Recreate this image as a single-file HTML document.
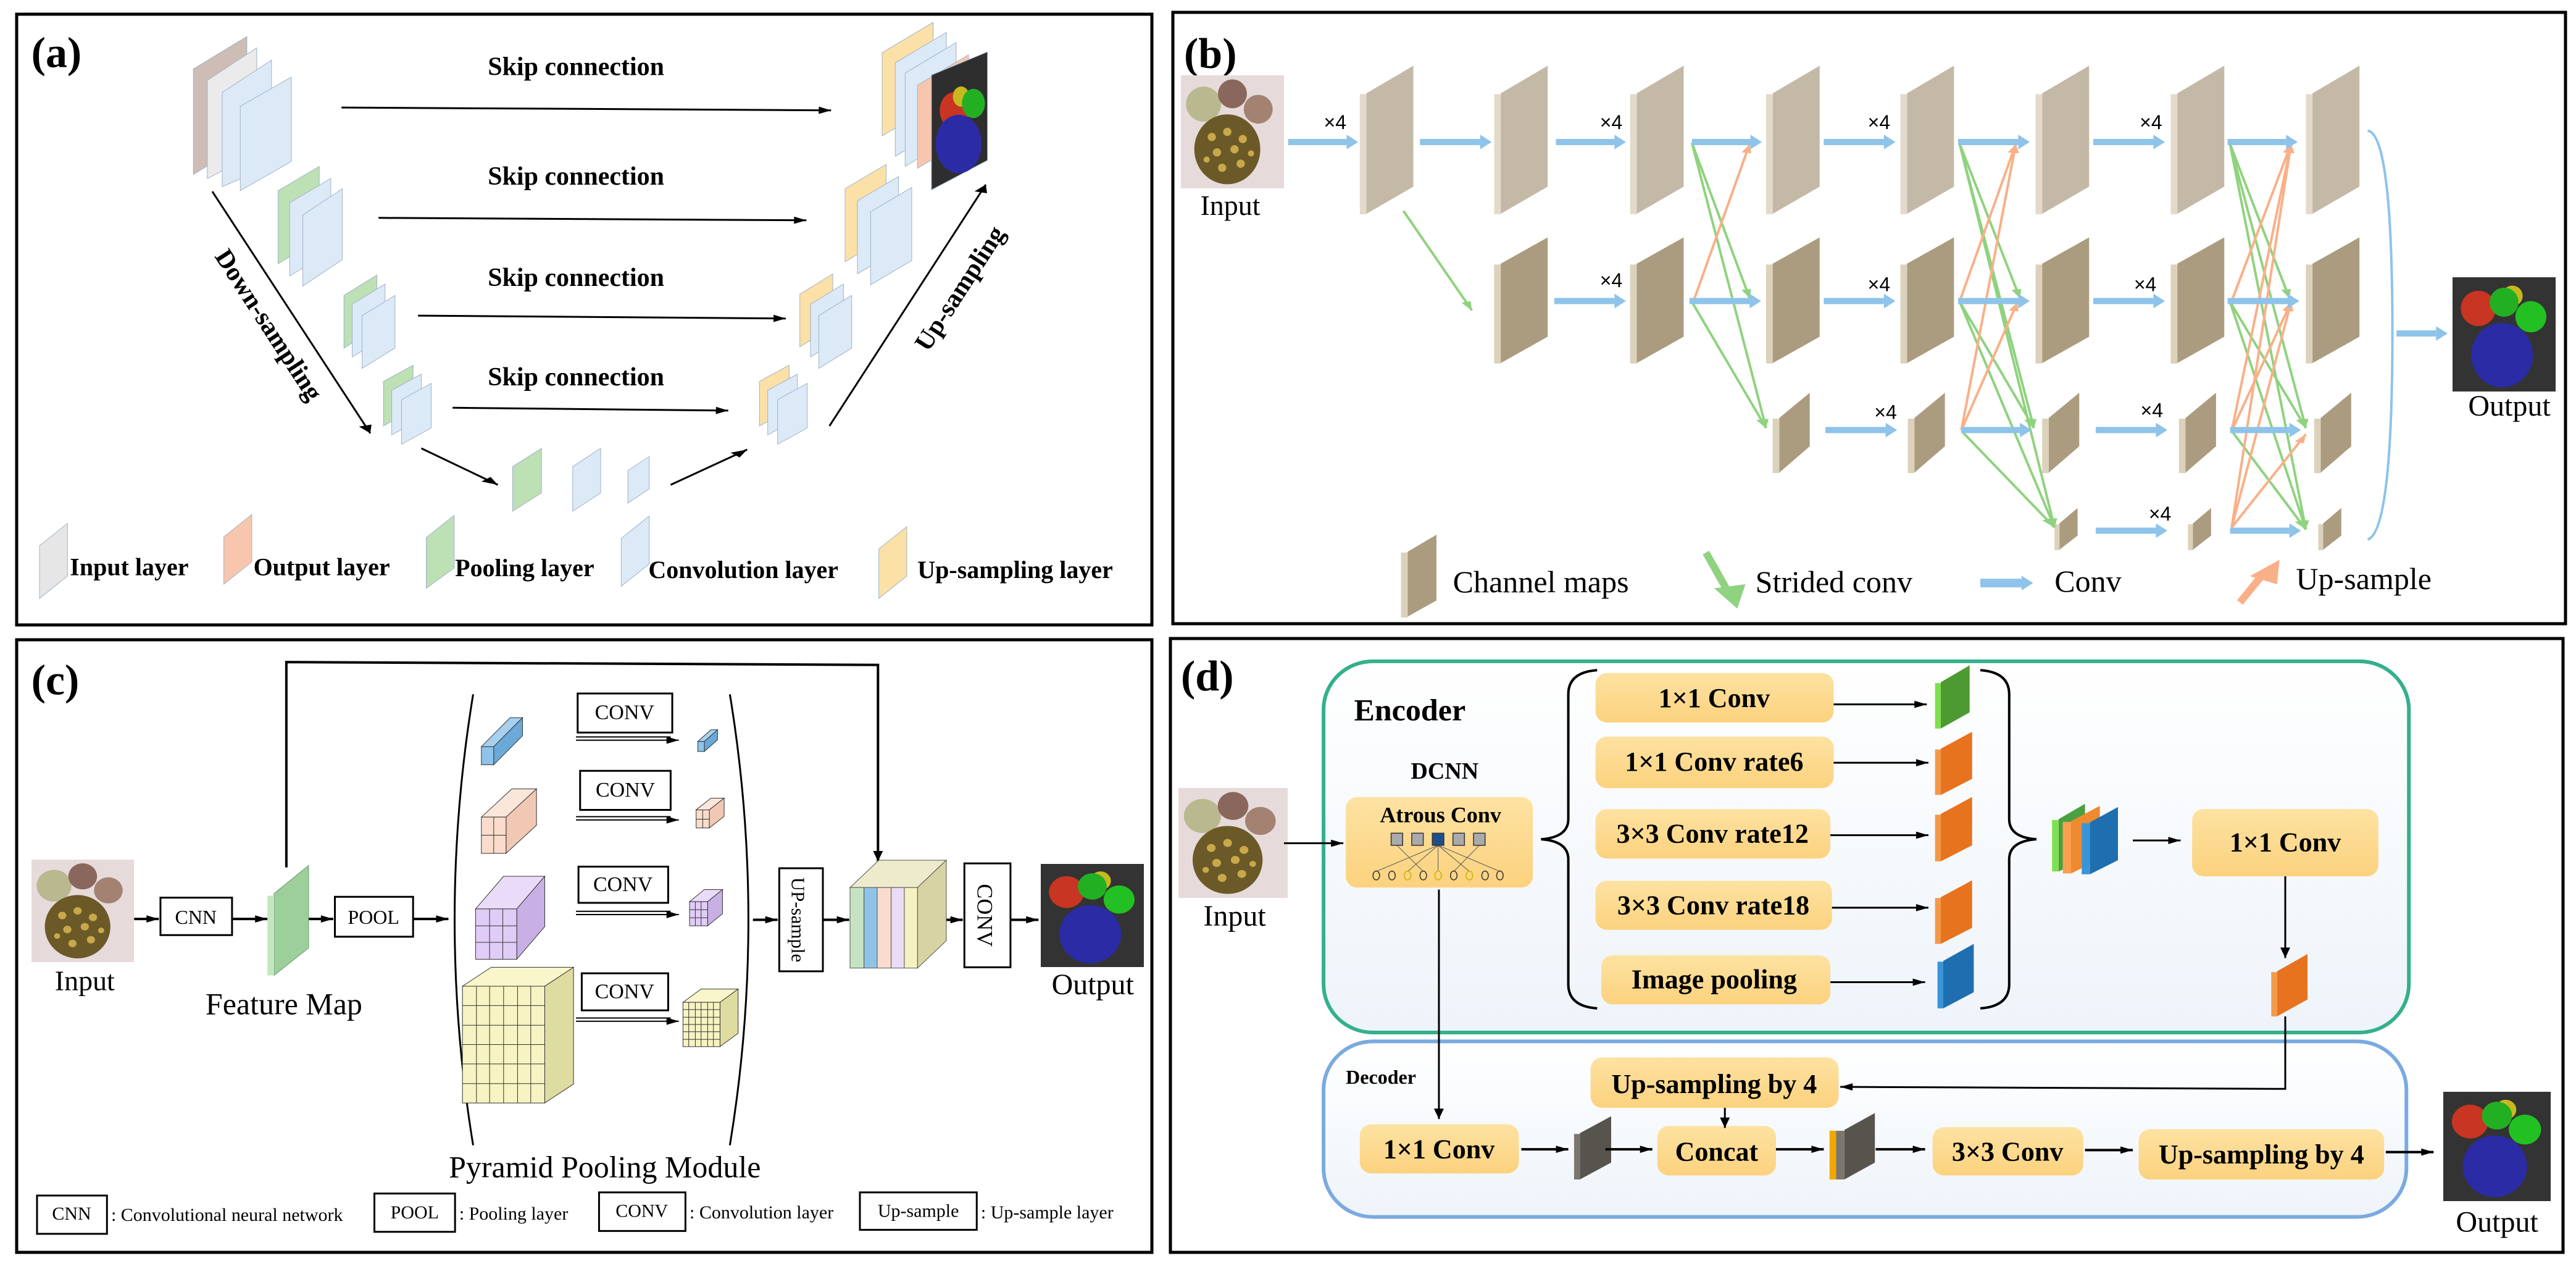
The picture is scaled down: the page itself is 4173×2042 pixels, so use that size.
<!DOCTYPE html>
<html><head><meta charset="utf-8"><style>
html,body{margin:0;padding:0;background:#fff}
svg{display:block}
text{font-family:"Liberation Serif",serif;fill:#000}
.b{font-weight:bold}
.s{font-family:"Liberation Sans",sans-serif}
.ln{vector-effect:non-scaling-stroke}
</style></head><body>
<svg width="4173" height="2042" viewBox="0 0 4173 2042" xmlns="http://www.w3.org/2000/svg">
<defs>
<marker id="ah" markerUnits="userSpaceOnUse" orient="auto" refX="15" refY="0" markerWidth="40" markerHeight="40" overflow="visible"><path d="M0,-9 L15,0 L0,9 z" fill="#000"/></marker>
<marker id="av" markerUnits="userSpaceOnUse" orient="auto" refX="26" refY="0" markerWidth="40" markerHeight="40" overflow="visible"><path d="M0,-6 L26,0 L0,6 z" fill="#000"/></marker>
<marker id="ad" markerUnits="userSpaceOnUse" orient="auto" refX="20" refY="0" markerWidth="40" markerHeight="40" overflow="visible"><path d="M0,-8 L20,0 L0,8 z" fill="#000"/></marker>
<marker id="bh" markerUnits="userSpaceOnUse" orient="auto" refX="0" refY="0" markerWidth="40" markerHeight="40" overflow="visible"><path d="M0,-18 L14,0 L0,18 z" fill="#8ec3ea"/></marker>
<marker id="gm" markerUnits="userSpaceOnUse" orient="auto" refX="22" refY="0" markerWidth="40" markerHeight="40" overflow="visible"><path d="M0,-6 L22,0 L0,6 z" fill="#8fd27f"/></marker>
<marker id="om" markerUnits="userSpaceOnUse" orient="auto" refX="22" refY="0" markerWidth="40" markerHeight="40" overflow="visible"><path d="M0,-6 L22,0 L0,6 z" fill="#f9b088"/></marker>
<linearGradient id="box" x1="0" y1="0" x2="0" y2="1"><stop offset="0" stop-color="#fde2a2"/><stop offset="1" stop-color="#fcd27e"/></linearGradient>
<linearGradient id="enc" x1="0" y1="0" x2="0" y2="1"><stop offset="0" stop-color="#ffffff"/><stop offset="1" stop-color="#eef4fa"/></linearGradient>
<symbol id="inp" viewBox="0 0 100 110" preserveAspectRatio="none">
<rect width="100" height="110" fill="#e6dada"/>
<circle cx="22" cy="28" r="17" fill="#b9b88e"/><circle cx="50" cy="18" r="14" fill="#8a675c"/><circle cx="75" cy="33" r="14" fill="#a38272"/>
<ellipse cx="45" cy="72" rx="32" ry="34" fill="#6b5a28"/>
<g fill="#c9a84a"><circle cx="30" cy="60" r="4"/><circle cx="45" cy="55" r="4"/><circle cx="60" cy="62" r="4"/><circle cx="35" cy="75" r="4"/><circle cx="52" cy="72" r="4"/><circle cx="40" cy="90" r="4"/><circle cx="58" cy="86" r="4"/><circle cx="25" cy="82" r="3"/><circle cx="68" cy="76" r="3"/></g>
</symbol>
<symbol id="out" viewBox="0 0 100 110" preserveAspectRatio="none">
<rect width="100" height="110" fill="#333"/>
<circle cx="25" cy="30" r="17" fill="#c83522"/><circle cx="58" cy="18" r="10" fill="#c8b820"/><circle cx="50" cy="24" r="14" fill="#22b022"/><circle cx="76" cy="38" r="15" fill="#22c022"/>
<ellipse cx="48" cy="75" rx="30" ry="31" fill="#2b2ba6"/>
</symbol>
</defs>

<!-- panel borders -->
<rect x="27" y="23" width="1839" height="989" fill="none" stroke="#000" stroke-width="5"/>
<rect x="1900" y="20" width="2256" height="990" fill="none" stroke="#000" stroke-width="5"/>
<rect x="27" y="1036" width="1839" height="992" fill="none" stroke="#000" stroke-width="5"/>
<rect x="1896" y="1034" width="2256" height="994" fill="none" stroke="#000" stroke-width="5"/>

<!-- ================= (a) ================= -->
<g transform="translate(0,0) scale(1.333,0.657)">
<g stroke="#9fb3c8" stroke-width="1" class="ln">
<polygon class="ln" points="235,170 300,90 300,350 235,430" fill="#cdbdb5"/>
<polygon class="ln" points="252,198 312,118 312,378 252,440" fill="#ebebeb"/>
<polygon class="ln" points="270,228 330,148 330,408 270,460" fill="#dce9f7"/>
<polygon class="ln" points="292,262 354,190 354,398 292,470" fill="#dce9f7"/>
<polygon class="ln" points="338,470 388,410 388,590 338,650" fill="#bde0b5"/>
<polygon class="ln" points="352,500 402,440 402,620 352,680" fill="#dce9f7"/>
<polygon class="ln" points="368,530 416,465 416,640 368,705" fill="#dce9f7"/>
<polygon class="ln" points="418,728 458,678 458,808 418,858" fill="#bde0b5"/>
<polygon class="ln" points="428,750 468,700 468,830 428,880" fill="#dce9f7"/>
<polygon class="ln" points="440,778 480,728 480,858 440,908" fill="#dce9f7"/>
<polygon class="ln" points="466,940 502,900 502,1010 466,1050" fill="#bde0b5"/>
<polygon class="ln" points="476,962 512,922 512,1032 476,1072" fill="#dce9f7"/>
<polygon class="ln" points="488,985 524,945 524,1055 488,1095" fill="#dce9f7"/>
<polygon class="ln" points="623,1150 658,1105 658,1215 623,1260" fill="#bde0b5"/>
<polygon class="ln" points="696,1150 730,1105 730,1215 696,1260" fill="#dce9f7"/>
<polygon class="ln" points="763,1160 789,1125 789,1205 763,1240" fill="#dce9f7"/>
<polygon class="ln" points="923,940 959,900 959,1010 923,1050" fill="#fbe0a8"/>
<polygon class="ln" points="933,962 969,922 969,1032 933,1072" fill="#dce9f7"/>
<polygon class="ln" points="945,985 981,945 981,1055 945,1095" fill="#dce9f7"/>
<polygon class="ln" points="972,725 1012,675 1012,805 972,855" fill="#fbe0a8"/>
<polygon class="ln" points="985,750 1025,700 1025,830 985,880" fill="#dce9f7"/>
<polygon class="ln" points="995,778 1035,728 1035,858 995,908" fill="#dce9f7"/>
<polygon class="ln" points="1027,465 1077,405 1077,585 1027,645" fill="#fbe0a8"/>
<polygon class="ln" points="1042,495 1092,435 1092,615 1042,675" fill="#dce9f7"/>
<polygon class="ln" points="1058,522 1108,462 1108,642 1058,702" fill="#dce9f7"/>
<polygon class="ln" points="1072,130 1134,55 1134,260 1072,335" fill="#fbe0a8"/>
<polygon class="ln" points="1088,155 1150,80 1150,310 1088,385" fill="#dce9f7"/>
<polygon class="ln" points="1100,180 1162,105 1162,335 1100,410" fill="#dce9f7"/>
<polygon class="ln" points="1115,210 1177,135 1177,340 1115,415" fill="#f8c6ae"/>
<polygon class="ln" points="1132,185 1200,128 1200,395 1132,468" fill="#2e2e2e"/>
<polygon class="ln" points="48,1345 82,1290 82,1420 48,1475" fill="#e6e6e6"/>
<polygon class="ln" points="272,1323 306,1268 306,1385 272,1440" fill="#f8c6ae"/>
<polygon class="ln" points="518,1325 552,1270 552,1400 518,1450" fill="#bde0b5"/>
<polygon class="ln" points="755,1327 789,1272 789,1390 755,1445" fill="#dce9f7"/>
<polygon class="ln" points="1068,1353 1102,1298 1102,1420 1068,1475" fill="#fbe0a8"/>
</g>
<ellipse cx="1160" cy="272" rx="18" ry="45" fill="#c83522"/>
<ellipse cx="1168" cy="238" rx="10" ry="25" fill="#c8b820"/>
<ellipse cx="1183" cy="255" rx="14" ry="36" fill="#22b022"/>
<ellipse cx="1165" cy="355" rx="28" ry="72" fill="#2b2ba6"/>
<g stroke="#000" stroke-width="3" fill="none">
<line class="ln" x1="415" y1="265" x2="1010" y2="272" marker-end="url(#ah)"/>
<line class="ln" x1="460" y1="537" x2="980" y2="543" marker-end="url(#ah)"/>
<line class="ln" x1="508" y1="778" x2="955" y2="785" marker-end="url(#ah)"/>
<line class="ln" x1="550" y1="1005" x2="885" y2="1012" marker-end="url(#ah)"/>
<line class="ln" x1="258" y1="472" x2="450" y2="1068" marker-end="url(#ad)"/>
<line class="ln" x1="512" y1="1105" x2="605" y2="1195" marker-end="url(#ad)"/>
<line class="ln" x1="815" y1="1195" x2="908" y2="1108" marker-end="url(#ad)"/>
<line class="ln" x1="1008" y1="1050" x2="1198" y2="455" marker-end="url(#ad)"/>
</g>
<g transform="translate(38,165) scale(.75,1.522)"><text class="b" font-size="70">(a)</text></g>
<g transform="translate(700,185) scale(.75,1.522)"><text class="b" font-size="42" text-anchor="middle">Skip connection</text></g>
<g transform="translate(700,455) scale(.75,1.522)"><text class="b" font-size="42" text-anchor="middle">Skip connection</text></g>
<g transform="translate(700,705) scale(.75,1.522)"><text class="b" font-size="42" text-anchor="middle">Skip connection</text></g>
<g transform="translate(700,950) scale(.75,1.522)"><text class="b" font-size="42" text-anchor="middle">Skip connection</text></g>
<g transform="translate(318,812) scale(.75,1.522) rotate(57)"><text class="b" font-size="42" text-anchor="middle">Down-sampling</text></g>
<g transform="translate(1175,722) scale(.75,1.522) rotate(-57)"><text class="b" font-size="42" text-anchor="middle">Up-sampling</text></g>
<g transform="translate(85,1418) scale(.75,1.522)"><text class="b" font-size="40">Input layer</text></g>
<g transform="translate(308,1418) scale(.75,1.522)"><text class="b" font-size="40">Output layer</text></g>
<g transform="translate(553,1420) scale(.75,1.522)"><text class="b" font-size="40">Pooling layer</text></g>
<g transform="translate(788,1425) scale(.75,1.522)"><text class="b" font-size="40">Convolution layer</text></g>
<g transform="translate(1115,1425) scale(.75,1.522)"><text class="b" font-size="40">Up-sampling layer</text></g>
</g>

<!-- ================= (b) ================= -->
<text x="1918" y="110" class="b" font-size="70">(b)</text>
<use href="#inp" x="1913" y="122" width="167" height="183"/>
<text x="1993" y="348" font-size="46" text-anchor="middle">Input</text>
<use href="#out" x="3973" y="449" width="167" height="185"/>
<text x="4065" y="673" font-size="48" text-anchor="middle">Output</text>
<g transform="translate(2080,0) scale(1.335,0.657)">
<!-- row1 -->
<g fill="#c4b9a6">
<polygon points="100,230 157,162 157,460 100,527"/><polygon points="263,230 320,162 320,460 263,527"/>
<polygon points="428,230 485,162 485,460 428,527"/><polygon points="593,230 650,162 650,460 593,527"/>
<polygon points="756,230 813,162 813,460 756,527"/><polygon points="920,230 977,162 977,460 920,527"/>
<polygon points="1084,230 1141,162 1141,460 1084,527"/><polygon points="1248,230 1305,162 1305,460 1248,527"/>
</g>
<g fill="#e3dacb">
<rect x="92" y="232" width="8" height="296"/><rect x="255" y="232" width="8" height="296"/><rect x="420" y="232" width="8" height="296"/><rect x="585" y="232" width="8" height="296"/>
<rect x="748" y="232" width="8" height="296"/><rect x="912" y="232" width="8" height="296"/><rect x="1076" y="232" width="8" height="296"/><rect x="1240" y="232" width="8" height="296"/>
</g>
<!-- row2 -->
<g fill="#ab9c80">
<polygon points="263,650 320,585 320,830 263,895"/><polygon points="428,650 485,585 485,830 428,895"/>
<polygon points="593,650 650,585 650,830 593,895"/><polygon points="756,650 813,585 813,830 756,895"/>
<polygon points="920,650 977,585 977,830 920,895"/><polygon points="1084,650 1141,585 1141,830 1084,895"/>
<polygon points="1248,650 1305,585 1305,830 1248,895"/>
<polygon points="601,1030 638,968 638,1100 601,1165"/><polygon points="765,1030 802,968 802,1100 765,1165"/>
<polygon points="928,1030 965,968 965,1100 928,1165"/><polygon points="1094,1030 1131,968 1131,1100 1094,1165"/>
<polygon points="1258,1030 1295,968 1295,1100 1258,1165"/>
<polygon points="941,1290 963,1252 963,1320 941,1355"/><polygon points="1103,1290 1125,1252 1125,1320 1103,1355"/>
<polygon points="1261,1290 1283,1252 1283,1320 1261,1355"/>
<polygon points="150,1360 185,1318 185,1480 150,1520"/>
</g>
<g fill="#dcd1bb">
<rect x="255" y="652" width="8" height="244"/><rect x="420" y="652" width="8" height="244"/><rect x="585" y="652" width="8" height="244"/>
<rect x="748" y="652" width="8" height="244"/><rect x="912" y="652" width="8" height="244"/><rect x="1076" y="652" width="8" height="244"/><rect x="1240" y="652" width="8" height="244"/>
<rect x="593" y="1032" width="8" height="134"/><rect x="757" y="1032" width="8" height="134"/><rect x="920" y="1032" width="8" height="134"/><rect x="1086" y="1032" width="8" height="134"/><rect x="1250" y="1032" width="8" height="134"/>
<rect x="935" y="1292" width="6" height="64"/><rect x="1097" y="1292" width="6" height="64"/><rect x="1255" y="1292" width="6" height="64"/>
<rect x="142" y="1362" width="8" height="160"/>
</g>
<!-- green / orange -->
<g stroke="#8fd27f" stroke-width="4" fill="none">
<line class="ln" x1="145" y1="520" x2="228" y2="765" marker-end="url(#gm)"/>
<line class="ln" x1="495" y1="352" x2="565" y2="735" marker-end="url(#gm)"/>
<line class="ln" x1="495" y1="352" x2="585" y2="1055" marker-end="url(#gm)"/>
<line class="ln" x1="495" y1="744" x2="585" y2="1055" marker-end="url(#gm)"/>
<line class="ln" x1="820" y1="355" x2="893" y2="735" marker-end="url(#gm)"/>
<line class="ln" x1="820" y1="355" x2="910" y2="1055" marker-end="url(#gm)"/>
<line class="ln" x1="820" y1="355" x2="935" y2="1300" marker-end="url(#gm)"/>
<line class="ln" x1="820" y1="744" x2="910" y2="1055" marker-end="url(#gm)"/>
<line class="ln" x1="820" y1="744" x2="935" y2="1300" marker-end="url(#gm)"/>
<line class="ln" x1="822" y1="1062" x2="935" y2="1300" marker-end="url(#gm)"/>
<line class="ln" x1="1148" y1="355" x2="1220" y2="735" marker-end="url(#gm)"/>
<line class="ln" x1="1148" y1="355" x2="1240" y2="1055" marker-end="url(#gm)"/>
<line class="ln" x1="1148" y1="355" x2="1240" y2="1305" marker-end="url(#gm)"/>
<line class="ln" x1="1148" y1="744" x2="1240" y2="1055" marker-end="url(#gm)"/>
<line class="ln" x1="1148" y1="744" x2="1240" y2="1305" marker-end="url(#gm)"/>
<line class="ln" x1="1150" y1="1062" x2="1240" y2="1305" marker-end="url(#gm)"/>
</g>
<g stroke="#f9b088" stroke-width="4" fill="none">
<line class="ln" x1="497" y1="742" x2="565" y2="355" marker-end="url(#om)"/>
<line class="ln" x1="820" y1="742" x2="888" y2="355" marker-end="url(#om)"/>
<line class="ln" x1="822" y1="1060" x2="888" y2="355" marker-end="url(#om)"/>
<line class="ln" x1="822" y1="1060" x2="890" y2="745" marker-end="url(#om)"/>
<line class="ln" x1="1150" y1="742" x2="1222" y2="355" marker-end="url(#om)"/>
<line class="ln" x1="1150" y1="1062" x2="1222" y2="355" marker-end="url(#om)"/>
<line class="ln" x1="1150" y1="1300" x2="1222" y2="355" marker-end="url(#om)"/>
<line class="ln" x1="1150" y1="1062" x2="1222" y2="745" marker-end="url(#om)"/>
<line class="ln" x1="1150" y1="1300" x2="1222" y2="745" marker-end="url(#om)"/>
<line class="ln" x1="1150" y1="1300" x2="1240" y2="1070" marker-end="url(#om)"/>
</g>
<!-- blue arrows -->
<g stroke="#8ec3ea" stroke-width="10" fill="none">
<line class="ln" x1="5" y1="350" x2="76" y2="350" marker-end="url(#bh)"/>
<line class="ln" x1="165" y1="350" x2="238" y2="350" marker-end="url(#bh)"/>
<line class="ln" x1="330" y1="350" x2="401" y2="350" marker-end="url(#bh)"/>
<line class="ln" x1="495" y1="350" x2="566" y2="350" marker-end="url(#bh)"/>
<line class="ln" x1="655" y1="350" x2="728" y2="350" marker-end="url(#bh)"/>
<line class="ln" x1="818" y1="350" x2="891" y2="350" marker-end="url(#bh)"/>
<line class="ln" x1="982" y1="350" x2="1055" y2="350" marker-end="url(#bh)"/>
<line class="ln" x1="1145" y1="350" x2="1216" y2="350" marker-end="url(#bh)"/>
<line class="ln" x1="328" y1="742" x2="401" y2="742" marker-end="url(#bh)"/>
<line class="ln" x1="492" y1="742" x2="565" y2="742" marker-end="url(#bh)"/>
<line class="ln" x1="655" y1="742" x2="728" y2="742" marker-end="url(#bh)"/>
<line class="ln" x1="818" y1="742" x2="891" y2="742" marker-end="url(#bh)"/>
<line class="ln" x1="982" y1="742" x2="1055" y2="742" marker-end="url(#bh)"/>
<line class="ln" x1="1145" y1="742" x2="1218" y2="742" marker-end="url(#bh)"/>
<line class="ln" x1="657" y1="1060" x2="730" y2="1060" marker-end="url(#bh)"/>
<line class="ln" x1="822" y1="1060" x2="893" y2="1060" marker-end="url(#bh)"/>
<line class="ln" x1="985" y1="1060" x2="1058" y2="1060" marker-end="url(#bh)"/>
<line class="ln" x1="1148" y1="1060" x2="1220" y2="1060" marker-end="url(#bh)"/>
<line class="ln" x1="985" y1="1308" x2="1058" y2="1308" marker-end="url(#bh)"/>
<line class="ln" x1="1148" y1="1308" x2="1220" y2="1308" marker-end="url(#bh)"/>
<line class="ln" x1="1350" y1="822" x2="1398" y2="822" marker-end="url(#bh)"/>
<line class="ln" x1="845" y1="1437" x2="895" y2="1437" stroke-width="14" marker-end="url(#bh)"/>
</g>
<path class="ln" d="M1315,322 Q1345,330 1345,820 Q1345,1310 1315,1330" stroke="#8ec3ea" stroke-width="4" fill="none"/>
<line class="ln" x1="512" y1="1362" x2="542" y2="1470" stroke="#8fd27f" stroke-width="12"/>
<polygon points="522,1450 560,1440 550,1500" fill="#8fd27f"/>
<line class="ln" x1="1160" y1="1485" x2="1190" y2="1410" stroke="#f9b088" stroke-width="12"/>
<polygon points="1172,1420 1208,1380 1205,1440" fill="#f9b088"/>
<g class="s">
<g transform="translate(62,318) scale(.75,1.522)"><text class="s" font-size="32" text-anchor="middle">×4</text></g>
<g transform="translate(397,318) scale(.75,1.522)"><text class="s" font-size="32" text-anchor="middle">×4</text></g>
<g transform="translate(722,318) scale(.75,1.522)"><text class="s" font-size="32" text-anchor="middle">×4</text></g>
<g transform="translate(1052,318) scale(.75,1.522)"><text class="s" font-size="32" text-anchor="middle">×4</text></g>
<g transform="translate(397,708) scale(.75,1.522)"><text class="s" font-size="32" text-anchor="middle">×4</text></g>
<g transform="translate(722,718) scale(.75,1.522)"><text class="s" font-size="32" text-anchor="middle">×4</text></g>
<g transform="translate(1045,718) scale(.75,1.522)"><text class="s" font-size="32" text-anchor="middle">×4</text></g>
<g transform="translate(730,1033) scale(.75,1.522)"><text class="s" font-size="32" text-anchor="middle">×4</text></g>
<g transform="translate(1053,1028) scale(.75,1.522)"><text class="s" font-size="32" text-anchor="middle">×4</text></g>
<g transform="translate(1063,1283) scale(.75,1.522)"><text class="s" font-size="32" text-anchor="middle">×4</text></g>
</g>
<g transform="translate(205,1460) scale(.75,1.522)"><text font-size="50">Channel maps</text></g>
<g transform="translate(572,1460) scale(.75,1.522)"><text font-size="50">Strided conv</text></g>
<g transform="translate(935,1458) scale(.75,1.522)"><text font-size="50">Conv</text></g>
<g transform="translate(1228,1452) scale(.75,1.522)"><text font-size="50">Up-sample</text></g>
</g>

<!-- ================= (c) ================= -->
<use href="#inp" x="51" y="1392" width="166" height="166"/>
<use href="#out" x="1686" y="1399" width="167" height="167"/>
<g transform="translate(0,1020) scale(1.333,0.652)">
<g transform="translate(38,160) scale(.75,1.534)"><text class="b" font-size="70">(c)</text></g>
<polyline class="ln" points="348,590 348,80 1067,87 1067,575" fill="none" stroke="#000" stroke-width="4" marker-end="url(#av)"/>
<g stroke="#000" stroke-width="4" fill="none">
<line class="ln" x1="163" y1="718" x2="193" y2="718" marker-end="url(#ah)"/>
<line class="ln" x1="282" y1="718" x2="325" y2="718" marker-end="url(#ah)"/>
<line class="ln" x1="375" y1="718" x2="405" y2="718" marker-end="url(#ah)"/>
<line class="ln" x1="502" y1="718" x2="545" y2="718" marker-end="url(#ah)"/>
<line class="ln" x1="915" y1="720" x2="945" y2="720" marker-end="url(#ah)"/>
<line class="ln" x1="1000" y1="720" x2="1032" y2="720" marker-end="url(#ah)"/>
<line class="ln" x1="1128" y1="720" x2="1170" y2="720" marker-end="url(#ah)"/>
<line class="ln" x1="1228" y1="720" x2="1262" y2="720" marker-end="url(#ah)"/>
</g>
<g stroke="#000" stroke-width="3" fill="#fff">
<rect class="ln" x="195" y="665" width="87" height="93"/>
<rect class="ln" x="407" y="663" width="95" height="99"/>
<rect class="ln" x="702" y="158" width="115" height="97"/>
<rect class="ln" x="705" y="350" width="110" height="97"/>
<rect class="ln" x="703" y="588" width="109" height="90"/>
<rect class="ln" x="707" y="853" width="105" height="92"/>
<rect class="ln" x="947" y="592" width="53" height="256"/>
<rect class="ln" x="1172" y="580" width="56" height="258"/>
<rect class="ln" x="45" y="1405" width="85" height="95"/>
<rect class="ln" x="455" y="1400" width="98" height="95"/>
<rect class="ln" x="728" y="1397" width="105" height="96"/>
<rect class="ln" x="1045" y="1397" width="142" height="93"/>
</g>
<!-- feature map -->
<polygon points="333,655 375,585 375,790 333,858" fill="#9ccf9a" stroke="#6a9a6a" stroke-width="1" class="ln"/>
<rect x="325" y="660" width="8" height="198" fill="#c5e6c0"/>
<!-- parens -->
<path class="ln" d="M575,160 Q530,720 575,1280" stroke="#000" stroke-width="3" fill="none"/>
<path class="ln" d="M887,160 Q932,720 887,1280" stroke="#000" stroke-width="3" fill="none"/>
<!-- double arrows -->
<g stroke="#000" stroke-width="2" fill="none">
<line class="ln" x1="700" y1="266" x2="815" y2="266"/><line class="ln" x1="700" y1="274" x2="825" y2="274" marker-end="url(#ah)"/>
<line class="ln" x1="700" y1="464" x2="815" y2="464"/><line class="ln" x1="700" y1="472" x2="825" y2="472" marker-end="url(#ah)"/>
<line class="ln" x1="700" y1="699" x2="815" y2="699"/><line class="ln" x1="700" y1="707" x2="825" y2="707" marker-end="url(#ah)"/>
<line class="ln" x1="700" y1="964" x2="815" y2="964"/><line class="ln" x1="700" y1="972" x2="825" y2="972" marker-end="url(#ah)"/>
</g>
<!-- cubes -->
<g stroke="#333" stroke-width="1">
<polygon class="ln" points="585,290 620,218 635,218 600,290" fill="#a8d0ee"/><polygon class="ln" points="600,290 635,218 635,263 600,335" fill="#6aa9d8"/><rect class="ln" x="585" y="290" width="15" height="45" fill="#8ec3ea"/>
<polygon class="ln" points="585,465 622,395 652,395 615,465" fill="#fbe6da"/><polygon class="ln" points="615,465 652,395 652,485 615,555" fill="#f0c8b4"/><rect class="ln" x="585" y="465" width="30" height="90" fill="#f9dccb"/>
<line class="ln" x1="600" y1="465" x2="600" y2="555"/><line class="ln" x1="585" y1="510" x2="615" y2="510"/>
<polygon class="ln" points="578,693 612,612 662,612 628,693" fill="#eadcf8"/><polygon class="ln" points="628,693 662,612 662,737 628,818" fill="#c8b0e4"/><rect class="ln" x="578" y="693" width="50" height="125" fill="#e0ccf6"/>
<line class="ln" x1="595" y1="693" x2="595" y2="818"/><line class="ln" x1="611" y1="693" x2="611" y2="818"/><line class="ln" x1="578" y1="735" x2="628" y2="735"/><line class="ln" x1="578" y1="776" x2="628" y2="776"/>
<polygon class="ln" points="562,885 597,838 697,838 662,885" fill="#faf6cc"/><polygon class="ln" points="662,885 697,838 697,1128 662,1175" fill="#dedca0"/><rect class="ln" x="562" y="885" width="100" height="290" fill="#f7f3c2"/>
<line class="ln" x1="579" y1="885" x2="579" y2="1175"/><line class="ln" x1="595" y1="885" x2="595" y2="1175"/><line class="ln" x1="612" y1="885" x2="612" y2="1175"/><line class="ln" x1="629" y1="885" x2="629" y2="1175"/><line class="ln" x1="645" y1="885" x2="645" y2="1175"/>
<line class="ln" x1="562" y1="933" x2="662" y2="933"/><line class="ln" x1="562" y1="982" x2="662" y2="982"/><line class="ln" x1="562" y1="1030" x2="662" y2="1030"/><line class="ln" x1="562" y1="1078" x2="662" y2="1078"/><line class="ln" x1="562" y1="1127" x2="662" y2="1127"/>
<polygon class="ln" points="848,277 864,248 872,248 856,277" fill="#a8d0ee"/><polygon class="ln" points="856,277 872,248 872,273 856,302" fill="#6aa9d8"/><rect class="ln" x="848" y="277" width="8" height="25" fill="#8ec3ea"/>
<polygon class="ln" points="846,447 864,418 880,418 862,447" fill="#fbe6da"/><polygon class="ln" points="862,447 880,418 880,463 862,492" fill="#f0c8b4"/><rect class="ln" x="846" y="447" width="16" height="45" fill="#f9dccb"/>
<line class="ln" x1="854" y1="447" x2="854" y2="492"/><line class="ln" x1="846" y1="470" x2="862" y2="470"/>
<polygon class="ln" points="838,675 856,645 878,645 860,675" fill="#eadcf8"/><polygon class="ln" points="860,675 878,645 878,705 860,735" fill="#c8b0e4"/><rect class="ln" x="838" y="675" width="22" height="60" fill="#e0ccf6"/>
<line class="ln" x1="845" y1="675" x2="845" y2="735"/><line class="ln" x1="852" y1="675" x2="852" y2="735"/><line class="ln" x1="838" y1="695" x2="860" y2="695"/><line class="ln" x1="838" y1="715" x2="860" y2="715"/>
<polygon class="ln" points="830,925 852,892 897,892 875,925" fill="#faf6cc"/><polygon class="ln" points="875,925 897,892 897,1002 875,1035" fill="#dedca0"/><rect class="ln" x="830" y="925" width="45" height="110" fill="#f7f3c2"/>
<line class="ln" x1="837" y1="925" x2="837" y2="1035"/><line class="ln" x1="845" y1="925" x2="845" y2="1035"/><line class="ln" x1="852" y1="925" x2="852" y2="1035"/><line class="ln" x1="860" y1="925" x2="860" y2="1035"/><line class="ln" x1="867" y1="925" x2="867" y2="1035"/>
<line class="ln" x1="830" y1="943" x2="875" y2="943"/><line class="ln" x1="830" y1="962" x2="875" y2="962"/><line class="ln" x1="830" y1="980" x2="875" y2="980"/><line class="ln" x1="830" y1="998" x2="875" y2="998"/><line class="ln" x1="830" y1="1017" x2="875" y2="1017"/>
</g>
<!-- concat stack -->
<g stroke="#555" stroke-width="1">
<polygon class="ln" points="1033,640 1068,572 1150,572 1115,640" fill="#eeeacc"/>
<polygon class="ln" points="1115,640 1150,572 1150,772 1115,840" fill="#d8d3a4"/>
<rect class="ln" x="1033" y="640" width="17" height="200" fill="#c5e3c0"/>
<rect class="ln" x="1050" y="640" width="16" height="200" fill="#8ec3e6"/>
<rect class="ln" x="1066" y="640" width="17" height="200" fill="#f9dccb"/>
<rect class="ln" x="1083" y="640" width="16" height="200" fill="#eadcf6"/>
<rect class="ln" x="1099" y="640" width="16" height="200" fill="#f5f1c2"/>
</g>
<g transform="translate(238,730) scale(.75,1.534)"><text font-size="32" text-anchor="middle">CNN</text></g>
<g transform="translate(454,730) scale(.75,1.534)"><text font-size="32" text-anchor="middle">POOL</text></g>
<g transform="translate(759,222) scale(.75,1.534)"><text font-size="34" text-anchor="middle">CONV</text></g>
<g transform="translate(760,414) scale(.75,1.534)"><text font-size="34" text-anchor="middle">CONV</text></g>
<g transform="translate(757,649) scale(.75,1.534)"><text font-size="34" text-anchor="middle">CONV</text></g>
<g transform="translate(759,915) scale(.75,1.534)"><text font-size="34" text-anchor="middle">CONV</text></g>
<g transform="translate(962,720) scale(.75,1.534) rotate(90)"><text font-size="31" text-anchor="middle">UP-sample</text></g>
<g transform="translate(1188,709) scale(.75,1.534) rotate(90)"><text font-size="36" text-anchor="middle">CONV</text></g>
<g transform="translate(103,895) scale(.75,1.534)"><text font-size="46" text-anchor="middle">Input</text></g>
<g transform="translate(345,955) scale(.75,1.534)"><text font-size="50" text-anchor="middle">Feature Map</text></g>
<g transform="translate(735,1360) scale(.75,1.534)"><text font-size="50" text-anchor="middle">Pyramid Pooling Module</text></g>
<g transform="translate(1328,905) scale(.75,1.534)"><text font-size="48" text-anchor="middle">Output</text></g>
<g transform="translate(87,1465) scale(.75,1.534)"><text font-size="30" text-anchor="middle">CNN</text></g>
<g transform="translate(135,1468) scale(.75,1.534)"><text font-size="30">: Convolutional neural network</text></g>
<g transform="translate(504,1462) scale(.75,1.534)"><text font-size="30" text-anchor="middle">POOL</text></g>
<g transform="translate(558,1465) scale(.75,1.534)"><text font-size="30">: Pooling layer</text></g>
<g transform="translate(780,1458) scale(.75,1.534)"><text font-size="30" text-anchor="middle">CONV</text></g>
<g transform="translate(838,1462) scale(.75,1.534)"><text font-size="30">: Convolution layer</text></g>
<g transform="translate(1116,1458) scale(.75,1.534)"><text font-size="30" text-anchor="middle">Up-sample</text></g>
<g transform="translate(1192,1462) scale(.75,1.534)"><text font-size="30">: Up-sample layer</text></g>
</g>

<!-- ================= (d) ================= -->
<text x="1913" y="1118" class="b" font-size="70">(d)</text>
<use href="#inp" x="1909" y="1276" width="177" height="178"/>
<text x="2000" y="1499" font-size="48" text-anchor="middle">Input</text>
<use href="#out" x="3958" y="1768" width="174" height="177"/>
<g transform="translate(2080,1020) scale(1.335,0.652)">
<rect class="ln" x="48" y="78" width="1317" height="922" rx="60" ry="120" fill="url(#enc)" stroke="#34b08c" stroke-width="6"/>
<rect class="ln" x="48" y="1022" width="1314" height="436" rx="60" ry="120" fill="url(#enc)" stroke="#7aaae0" stroke-width="6"/>
<g fill="url(#box)">
<rect x="75" y="415" width="227" height="225" rx="14" ry="28"/>
<rect x="378" y="107" width="289" height="123" rx="14" ry="28"/>
<rect x="378" y="265" width="289" height="128" rx="14" ry="28"/>
<rect x="378" y="445" width="285" height="123" rx="14" ry="28"/>
<rect x="378" y="623" width="287" height="122" rx="14" ry="28"/>
<rect x="385" y="808" width="278" height="122" rx="14" ry="28"/>
<rect x="1102" y="445" width="226" height="167" rx="14" ry="28"/>
<rect x="372" y="1062" width="301" height="125" rx="14" ry="28"/>
<rect x="92" y="1228" width="193" height="122" rx="14" ry="28"/>
<rect x="453" y="1232" width="144" height="123" rx="14" ry="28"/>
<rect x="787" y="1235" width="183" height="120" rx="14" ry="28"/>
<rect x="1037" y="1240" width="298" height="125" rx="14" ry="28"/>
</g>
<!-- atrous icon -->
<g stroke="#555" stroke-width="1" class="ln">
<line class="ln" x1="187" y1="535" x2="112" y2="600"/><line class="ln" x1="187" y1="535" x2="150" y2="600"/><line class="ln" x1="187" y1="535" x2="187" y2="600"/><line class="ln" x1="187" y1="535" x2="225" y2="600"/><line class="ln" x1="187" y1="535" x2="262" y2="600"/>
<line class="ln" x1="137" y1="535" x2="169" y2="600"/><line class="ln" x1="237" y1="535" x2="206" y2="600"/>
</g>
<g stroke="#333" stroke-width="1.5">
<rect class="ln" x="130" y="505" width="14" height="30" fill="#aaa"/><rect class="ln" x="155" y="505" width="14" height="30" fill="#aaa"/>
<rect class="ln" x="180" y="505" width="14" height="30" fill="#1f4e8c"/><rect class="ln" x="205" y="505" width="14" height="30" fill="#aaa"/><rect class="ln" x="230" y="505" width="14" height="30" fill="#aaa"/>
<g fill="none"><ellipse class="ln" cx="112" cy="610" rx="4" ry="11"/><ellipse class="ln" cx="131" cy="610" rx="4" ry="11"/><ellipse class="ln" cx="150" cy="610" rx="4" ry="11" stroke="#c8b400"/><ellipse class="ln" cx="169" cy="610" rx="4" ry="11"/><ellipse class="ln" cx="187" cy="610" rx="4" ry="11" stroke="#c8b400"/><ellipse class="ln" cx="206" cy="610" rx="4" ry="11"/><ellipse class="ln" cx="225" cy="610" rx="4" ry="11" stroke="#c8b400"/><ellipse class="ln" cx="244" cy="610" rx="4" ry="11"/><ellipse class="ln" cx="262" cy="610" rx="4" ry="11"/></g>
</g>
<!-- braces -->
<path class="ln" d="M380,100 Q345,105 345,160 L345,470 Q345,515 312,520 Q345,525 345,570 L345,880 Q345,935 380,940" fill="none" stroke="#000" stroke-width="4"/>
<path class="ln" d="M845,100 Q880,105 880,160 L880,470 Q880,515 913,520 Q880,525 880,570 L880,880 Q880,935 845,940" fill="none" stroke="#000" stroke-width="4"/>
<!-- slabs -->
<polygon points="797,130 832,88 832,205 797,245" fill="#4e9a32"/><rect x="790" y="132" width="7" height="113" fill="#7ee050"/>
<polygon points="797,295 835,253 835,370 797,410" fill="#e8731f"/><rect x="790" y="297" width="7" height="113" fill="#f39a4a"/>
<polygon points="797,457 835,415 835,535 797,575" fill="#e8731f"/><rect x="790" y="459" width="7" height="116" fill="#f39a4a"/>
<polygon points="797,664 835,622 835,740 797,780" fill="#e8731f"/><rect x="790" y="666" width="7" height="114" fill="#f39a4a"/>
<polygon points="800,822 837,780 837,900 800,940" fill="#1f6fb0"/><rect x="793" y="824" width="7" height="116" fill="#3a94d8"/>
<polygon points="940,470 972,432 972,568 940,600" fill="#4aa040"/><rect x="932" y="472" width="8" height="128" fill="#7ee050"/>
<polygon points="955,475 990,437 990,570 955,605" fill="#ef8a30"/><rect x="945" y="477" width="10" height="128" fill="#f9a050"/>
<polygon points="978,478 1012,440 1012,572 978,607" fill="#1f6fb0"/><rect x="968" y="480" width="10" height="127" fill="#3a94d8"/>
<polygon points="1205,848 1242,805 1242,918 1205,960" fill="#e8731f"/><rect x="1198" y="850" width="7" height="110" fill="#f39a4a"/>
<polygon points="359,1250 397,1208 397,1323 359,1365" fill="#57534d"/><rect x="352" y="1252" width="7" height="113" fill="#7a766e"/>
<polygon points="680,1242 717,1200 717,1323 680,1365" fill="#57534d"/><rect x="662" y="1244" width="8" height="121" fill="#f0a800"/><rect x="670" y="1244" width="10" height="121" fill="#7a766e"/>
<!-- arrows -->
<g stroke="#000" stroke-width="3" fill="none">
<line class="ln" x1="0" y1="530" x2="72" y2="530" marker-end="url(#ah)"/>
<line class="ln" x1="667" y1="185" x2="780" y2="185" marker-end="url(#ah)"/>
<line class="ln" x1="667" y1="330" x2="782" y2="330" marker-end="url(#ah)"/>
<line class="ln" x1="663" y1="510" x2="782" y2="510" marker-end="url(#ah)"/>
<line class="ln" x1="665" y1="690" x2="782" y2="690" marker-end="url(#ah)"/>
<line class="ln" x1="663" y1="875" x2="778" y2="875" marker-end="url(#ah)"/>
<line class="ln" x1="1030" y1="523" x2="1088" y2="523" marker-end="url(#ah)"/>
<line class="ln" x1="1215" y1="612" x2="1215" y2="815" marker-end="url(#av)"/>
<polyline class="ln" points="1215,960 1215,1140 675,1135" marker-end="url(#ah)"/>
<line class="ln" x1="188" y1="645" x2="188" y2="1215" marker-end="url(#av)"/>
<line class="ln" x1="535" y1="1187" x2="535" y2="1237" marker-end="url(#av)"/>
</g>
<g stroke="#000" stroke-width="4" fill="none">
<line class="ln" x1="288" y1="1290" x2="345" y2="1290" marker-end="url(#ah)"/>
<line class="ln" x1="390" y1="1290" x2="447" y2="1290" marker-end="url(#ah)"/>
<line class="ln" x1="597" y1="1290" x2="655" y2="1290" marker-end="url(#ah)"/>
<line class="ln" x1="718" y1="1290" x2="778" y2="1290" marker-end="url(#ah)"/>
<line class="ln" x1="972" y1="1292" x2="1030" y2="1292" marker-end="url(#ah)"/>
<line class="ln" x1="1337" y1="1297" x2="1395" y2="1297" marker-end="url(#ah)"/>
</g>
<g transform="translate(85,225) scale(.75,1.534)"><text class="b" font-size="50">Encoder</text></g>
<g transform="translate(195,370) scale(.75,1.534)"><text class="b" font-size="38" text-anchor="middle">DCNN</text></g>
<g transform="translate(190,478) scale(.75,1.534)"><text class="b" font-size="36" text-anchor="middle">Atrous Conv</text></g>
<g transform="translate(522,192) scale(.75,1.534)"><text class="b" font-size="44" text-anchor="middle">1×1 Conv</text></g>
<g transform="translate(522,350) scale(.75,1.534)"><text class="b" font-size="44" text-anchor="middle">1×1 Conv rate6</text></g>
<g transform="translate(520,528) scale(.75,1.534)"><text class="b" font-size="44" text-anchor="middle">3×3 Conv rate12</text></g>
<g transform="translate(521,706) scale(.75,1.534)"><text class="b" font-size="44" text-anchor="middle">3×3 Conv rate18</text></g>
<g transform="translate(522,890) scale(.75,1.534)"><text class="b" font-size="44" text-anchor="middle">Image pooling</text></g>
<g transform="translate(1215,550) scale(.75,1.534)"><text class="b" font-size="44" text-anchor="middle">1×1 Conv</text></g>
<g transform="translate(75,1127) scale(.75,1.534)"><text class="b" font-size="32">Decoder</text></g>
<g transform="translate(522,1150) scale(.75,1.534)"><text class="b" font-size="44" text-anchor="middle">Up-sampling by 4</text></g>
<g transform="translate(188,1312) scale(.75,1.534)"><text class="b" font-size="44" text-anchor="middle">1×1 Conv</text></g>
<g transform="translate(525,1318) scale(.75,1.534)"><text class="b" font-size="44" text-anchor="middle">Concat</text></g>
<g transform="translate(878,1318) scale(.75,1.534)"><text class="b" font-size="44" text-anchor="middle">3×3 Conv</text></g>
<g transform="translate(1186,1325) scale(.75,1.534)"><text class="b" font-size="44" text-anchor="middle">Up-sampling by 4</text></g>
<g transform="translate(1472,1495) scale(.75,1.534)"><text font-size="48" text-anchor="middle">Output</text></g>
</g>
</svg>
</body></html>
